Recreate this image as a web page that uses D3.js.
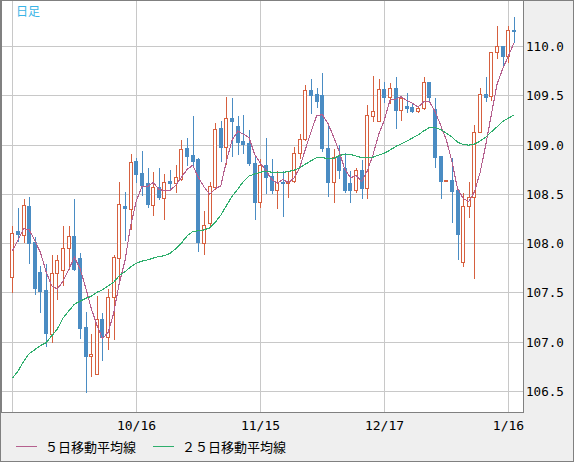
<!DOCTYPE html>
<html><head><meta charset="utf-8">
<script src="https://cdn.jsdelivr.net/npm/d3@7"></script>
<style>html,body{margin:0;padding:0;background:#fff;}svg{display:block;}</style>
</head><body><svg id="c" width="574" height="462"></svg>
<script>
// ---- data (USD/JPY daily) ----
const dates = [
 "2019-09-16","2019-09-17","2019-09-18","2019-09-19","2019-09-20","2019-09-23","2019-09-24","2019-09-25","2019-09-26","2019-09-27","2019-09-30",
 "2019-10-01","2019-10-02","2019-10-03","2019-10-04","2019-10-07","2019-10-08","2019-10-09","2019-10-10","2019-10-11","2019-10-14","2019-10-15",
 "2019-10-16","2019-10-17","2019-10-18","2019-10-21","2019-10-22","2019-10-23","2019-10-24","2019-10-25","2019-10-28","2019-10-29","2019-10-30","2019-10-31",
 "2019-11-01","2019-11-04","2019-11-05","2019-11-06","2019-11-07","2019-11-08","2019-11-11","2019-11-12","2019-11-13","2019-11-14","2019-11-15",
 "2019-11-18","2019-11-19","2019-11-20","2019-11-21","2019-11-22","2019-11-25","2019-11-26","2019-11-27","2019-11-28","2019-11-29",
 "2019-12-02","2019-12-03","2019-12-04","2019-12-05","2019-12-06","2019-12-09","2019-12-10","2019-12-11","2019-12-12","2019-12-13","2019-12-16",
 "2019-12-17","2019-12-18","2019-12-19","2019-12-20","2019-12-23","2019-12-24","2019-12-25","2019-12-26","2019-12-27","2019-12-30","2019-12-31",
 "2020-01-01","2020-01-02","2020-01-03","2020-01-06","2020-01-07","2020-01-08","2020-01-09","2020-01-10","2020-01-13","2020-01-14","2020-01-15","2020-01-16","2020-01-17"
];
const open = [
 107.66,108.12,108.08,108.38,108.01,107.71,107.52,107.08,107.70,107.73,107.95,
 108.07,107.85,107.15,106.86,106.67,107.23,107.05,107.45,107.85,108.38,108.35,
 108.83,108.71,108.61,108.39,108.57,108.46,108.63,108.61,108.65,108.97,108.89,108.85,
 108.00,108.20,108.57,109.17,108.98,109.27,109.19,109.04,109.02,108.81,108.42,
 108.79,108.68,108.54,108.62,108.61,108.63,108.91,109.06,109.55,109.51,
 109.50,108.97,108.62,108.88,108.76,108.61,108.54,108.74,108.56,109.29,109.24,
 109.56,109.48,109.57,109.35,109.39,109.38,109.34,109.37,109.63,109.36,108.88,
 108.63,108.64,108.54,107.81,108.38,108.47,109.13,109.51,109.49,109.94,110.00,109.90,110.16
];
const high = [
 108.17,108.36,108.45,108.47,108.06,107.77,107.79,107.88,107.88,108.17,108.17,
 108.45,107.90,107.30,107.08,107.46,107.29,107.53,107.88,108.62,108.52,108.90,
 108.86,108.93,108.76,108.72,108.76,108.70,108.74,108.79,109.05,109.07,109.29,108.86,
 108.33,108.62,109.22,109.24,109.48,109.47,109.29,109.30,109.15,108.88,108.85,
 109.07,108.85,108.73,108.73,108.73,108.98,109.11,109.60,109.67,109.57,
 109.73,109.20,108.95,109.00,108.91,108.73,108.76,108.84,109.40,109.70,109.67,
 109.63,109.62,109.69,109.48,109.52,109.42,109.39,109.69,109.63,109.47,108.88,
 108.64,108.86,108.55,108.51,108.62,109.20,109.57,109.69,109.94,110.20,110.00,110.20,110.29
];
const low = [
 107.50,108.02,108.01,107.80,107.48,107.30,106.96,107.00,107.43,107.58,107.74,
 107.73,107.04,106.49,106.65,106.67,106.81,106.93,107.03,107.60,108.03,108.14,
 108.62,108.49,108.37,108.29,108.45,108.25,108.56,108.52,108.64,108.79,108.79,107.92,
 107.89,108.18,108.55,108.83,108.80,108.88,108.90,108.91,108.79,108.25,108.37,
 108.51,108.51,108.36,108.28,108.47,108.62,108.86,109.05,109.32,109.38,
 108.93,108.48,108.42,108.66,108.52,108.42,108.52,108.46,108.46,109.24,109.24,
 109.43,109.42,109.17,109.25,109.33,109.33,109.33,109.36,109.43,108.77,108.46,
 108.63,108.21,107.84,107.77,108.27,107.65,109.13,109.44,109.45,109.88,109.81,109.84,110.04
];
const close = [
 108.10,108.09,108.39,108.00,107.54,107.51,107.09,107.70,107.83,107.95,108.07,
 107.74,107.14,106.86,106.88,107.23,107.05,107.45,107.86,108.40,108.36,108.82,
 108.70,108.59,108.40,108.57,108.47,108.62,108.61,108.67,108.96,108.88,108.83,108.01,
 108.18,108.58,109.16,108.98,109.27,109.24,109.03,109.01,108.81,108.42,108.79,
 108.67,108.54,108.62,108.61,108.63,108.91,109.06,109.55,109.50,109.44,
 108.97,108.62,108.87,108.74,108.54,108.54,108.74,108.56,109.30,109.34,109.56,
 109.48,109.57,109.35,109.47,109.37,109.34,109.37,109.63,109.48,108.87,108.63,
 108.64,108.53,108.09,108.38,108.47,109.13,109.51,109.48,109.94,110.00,109.90,110.16,110.15
];
// closes of the 24 sessions before the first candle (not drawn; estimated so the averages start where the picture shows)
const priorCloses = [106.34,105.89,106.00,106.54,106.51,106.34,105.95,106.08,105.20,106.32,105.99,106.39,
 106.11,106.38,106.23,106.38,106.50,106.90,106.70,107.40,107.55,107.80,108.05,108.10];
const yTicks = [106.5,107.0,107.5,108.0,108.5,109.0,109.5,110.0];
const xTickDates = ["2019-09-16","2019-10-16","2019-11-15","2019-12-17","2020-01-16"];
const xTickLabels = ["","10/16","11/15","12/17","1/16"];
const maPeriods = [5,25];
const legendLabels = ["５日移動平均線","２５日移動平均線"];
const title = "日足";

// ---- style ----
const upColor = "#d6603f", downColor = "#4a8cc3";
const maColors = ["#b5608e","#2eae6c"];
const gridColor = "#c8c8c8", frameColor = "#808080", panelColor = "#efefef";

const svg = d3.select("#c");
const W = 574, H = 462;
const P = {l:1, t:1, r:523, b:412};

const x = d3.scalePoint().domain(dates).range([12.3, 513.9]);
const y = d3.scaleLinear().domain([106.5,110.0]).range([391,46]);

svg.append("rect").attr("width",W).attr("height",H).attr("fill",panelColor);
svg.append("rect").attr("x",P.l).attr("y",P.t).attr("width",P.r-P.l).attr("height",P.b-P.t).attr("fill","#fff");

svg.append("defs").append("clipPath").attr("id","pc").append("rect")
  .attr("x",P.l).attr("y",P.t).attr("width",P.r-P.l).attr("height",P.b-P.t);

// grid
const g = svg.append("g").attr("shape-rendering","crispEdges");
g.selectAll(".hg").data(yTicks).join("line")
  .attr("x1",P.l).attr("x2",P.r)
  .attr("y1",d=>Math.round(y(d))+0.5).attr("y2",d=>Math.round(y(d))+0.5)
  .attr("stroke",gridColor);
g.selectAll(".vg").data(xTickDates).join("line")
  .attr("x1",d=>Math.round(x(d))+0.5).attr("x2",d=>Math.round(x(d))+0.5)
  .attr("y1",P.t).attr("y2",P.b)
  .attr("stroke",gridColor);

// candles
const bars = dates.map((d,i)=>({d,o:open[i],h:high[i],l:low[i],c:close[i]}));
const cg = svg.append("g").attr("clip-path","url(#pc)").attr("shape-rendering","crispEdges");
bars.forEach(b=>{
  const px = Math.round(x(b.d));
  const up = b.c >= b.o;
  const col = up ? upColor : downColor;
  const yh = Math.round(y(b.h)), yl = Math.round(y(b.l));
  const yt = Math.round(y(Math.max(b.o,b.c))), yb = Math.round(y(Math.min(b.o,b.c)));
  cg.append("line").attr("x1",px+0.5).attr("x2",px+0.5).attr("y1",yh).attr("y2",yl+1).attr("stroke",col);
  if (up) {
    cg.append("rect").attr("x",px-1.5).attr("y",yt+0.5).attr("width",3).attr("height",Math.max(0,yb-yt))
      .attr("fill","#fff").attr("stroke",col);
  } else {
    cg.append("rect").attr("x",px-2).attr("y",yt).attr("width",4).attr("height",Math.max(1,yb-yt+1))
      .attr("fill",col);
  }
});

// moving averages
const all = priorCloses.concat(close);
const off = priorCloses.length;
maPeriods.forEach((n,k)=>{
  const vals = dates.map((d,i)=>({d, v:d3.mean(all.slice(i+off-n+1, i+off+1))}));
  svg.append("path").datum(vals).attr("clip-path","url(#pc)")
    .attr("fill","none").attr("stroke",maColors[k]).attr("stroke-width",1.1)
    .attr("shape-rendering","crispEdges")
    .attr("d", d3.line().x(p=>x(p.d)).y(p=>y(p.v)));
});

// frames
const f = svg.append("g").attr("shape-rendering","crispEdges").attr("stroke",frameColor).attr("fill","none");
f.append("rect").attr("x",0.5).attr("y",0.5).attr("width",W-1).attr("height",H-1);
f.append("line").attr("x1",1.5).attr("x2",1.5).attr("y1",0).attr("y2",P.b);
f.append("line").attr("x1",P.r+0.5).attr("x2",P.r+0.5).attr("y1",0).attr("y2",P.b+1);
f.append("line").attr("x1",0).attr("x2",P.r+1).attr("y1",P.b+0.5).attr("y2",P.b+0.5);

// axis labels
const mono = "'DejaVu Sans Mono', 'Liberation Mono', monospace";
svg.selectAll(".yl").data(yTicks).join("text")
  .attr("x",526).attr("y",d=>Math.round(y(d))+5)
  .attr("font-family",mono).attr("font-size","12.6px").attr("fill","#000")
  .text(d=>d3.format(".1f")(d));
svg.selectAll(".xl").data(xTickDates).join("text")
  .attr("x",d=>Math.round(x(d))+0.5).attr("y",430)
  .attr("text-anchor","middle")
  .attr("font-family",mono).attr("font-size","13px").attr("fill","#000")
  .text((d,i)=>xTickLabels[i]);

// title
svg.append("text").attr("x",16).attr("y",16)
  .attr("font-family","'Noto Sans CJK JP', sans-serif").attr("font-size","12px").attr("fill","#3ab4e6")
  .text(title);

// legend
const lx = [16,153];
legendLabels.forEach((t,k)=>{
  svg.append("line").attr("x1",lx[k]).attr("x2",lx[k]+21).attr("y1",446.5).attr("y2",446.5)
    .attr("stroke",maColors[k]).attr("shape-rendering","crispEdges");
  svg.append("text").attr("x",lx[k]+29).attr("y",452)
    .attr("font-family","'Noto Sans CJK JP', sans-serif").attr("font-size","13px").attr("fill","#000")
    .text(t);
});
</script></body></html>
